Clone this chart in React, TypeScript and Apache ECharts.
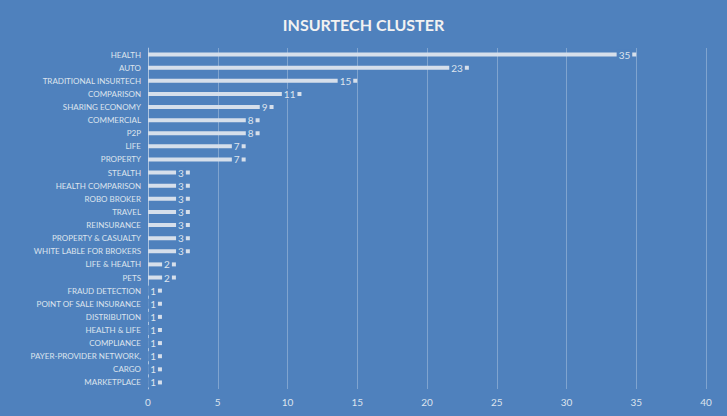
import React, { useEffect, useRef } from "react";
import * as echarts from "echarts";

const categories = [
  "HEALTH",
  "AUTO",
  "TRADITIONAL INSURTECH",
  "COMPARISON",
  "SHARING ECONOMY",
  "COMMERCIAL",
  "P2P",
  "LIFE",
  "PROPERTY",
  "STEALTH",
  "HEALTH COMPARISON",
  "ROBO BROKER",
  "TRAVEL",
  "REINSURANCE",
  "PROPERTY & CASUALTY",
  "WHITE LABLE FOR BROKERS",
  "LIFE & HEALTH",
  "PETS",
  "FRAUD DETECTION",
  "POINT OF SALE INSURANCE",
  "DISTRIBUTION",
  "HEALTH & LIFE",
  "COMPLIANCE",
  "PAYER-PROVIDER NETWORK,",
  "CARGO",
  "MARKETPLACE",
];

const values = [35, 23, 15, 11, 9, 8, 8, 7, 7, 3, 3, 3, 3, 3, 3, 3, 2, 2, 1, 1, 1, 1, 1, 1, 1, 1];

const xTicks = { min: 0, max: 40, interval: 5 };
const title = "INSURTECH CLUSTER";

const BG = "#4f81bd";
const FONT = "Lato, 'Open Sans', sans-serif";

export default function App() {
  const ref = useRef<HTMLDivElement>(null);
  useEffect(() => {
    if (!ref.current) return;
    const chart = echarts.init(ref.current, undefined, { renderer: "svg" });
    chart.setOption({
      animation: false,
      backgroundColor: BG,
      title: {
        text: title,
        left: "center",
        top: 11,
        textStyle: {
          color: "#f2f2f2",
          fontSize: 16,
          fontWeight: "bold",
          fontFamily: FONT,
        },
      },
      grid: { left: 148, right: 21, top: 48, bottom: 27, containLabel: false },
      xAxis: {
        type: "value",
        min: xTicks.min,
        max: xTicks.max,
        interval: xTicks.interval,
        axisLine: { show: false },
        axisTick: { show: false },
        axisLabel: { color: "#dde4ee", fontSize: 10, fontFamily: FONT, margin: 8 },
        splitLine: { lineStyle: { color: "rgba(255,255,255,0.28)", width: 1 } },
      },
      yAxis: {
        type: "category",
        inverse: true,
        data: categories,
        axisLine: { show: true, lineStyle: { color: "rgba(255,255,255,0.35)" } },
        axisTick: { show: false },
        axisLabel: { color: "#dde4ee", fontSize: 8, fontFamily: FONT, margin: 7 },
      },
      series: [
        {
          type: "bar",
          data: values,
          barWidth: 4,
          itemStyle: { color: "#d6dfeb" },
          label: {
            show: true,
            position: "insideRight",
            distance: 4,
            color: "#dde4ee",
            fontSize: 10,
            fontFamily: FONT,
            backgroundColor: BG,
            padding: [0, 2],
          },
        },
      ],
    });
    return () => chart.dispose();
  }, []);
  return <div ref={ref} style={{ width: 727, height: 416, position: "absolute", left: 0, top: 0 }} />;
}
